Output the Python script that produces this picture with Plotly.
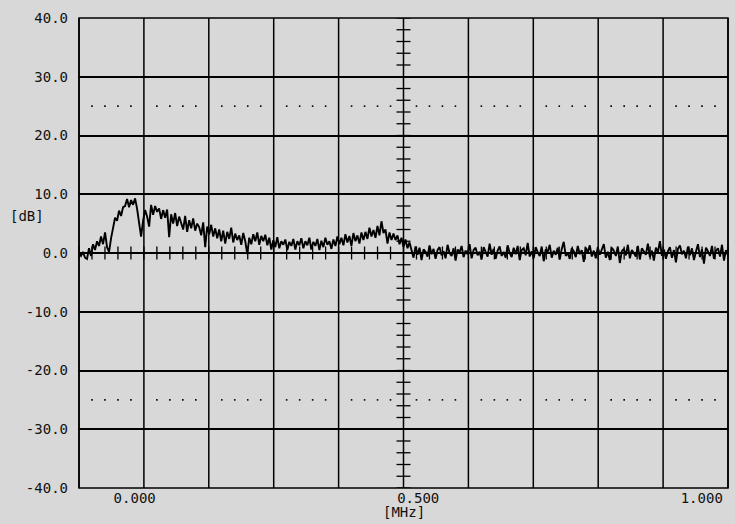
import numpy as np
import plotly.graph_objects as go

# Frequency span of the display (MHz at left and right edge of the graticule)
FREQ_START = -0.0982
FREQ_STOP = 1.0463

# Measured level [dB], equally spaced frequency bins across the span
DB_VALUES = [
    0.0, -0.5, 0.2, -0.8,
    -1.0, 0.8, -0.5, 1.5,
    0.5, 2.0, 1.2,
    2.8, 1.5, 3.5,
    1.0, 0.2,
    2.5, 4.5, 6.0,
    5.5, 7.2, 6.3, 7.8,
    8.0, 9.2, 7.8, 9.0, 8.2, 9.3,
    7.5, 5.0, 2.8,
    5.5,
    7.3, 6.2, 4.5,
    8.2, 6.5, 8.0, 7.0, 7.6, 5.8, 7.3,
    6.0, 7.4, 2.7, 6.6, 5.0, 6.8, 4.6, 6.2,
    5.2, 4.0, 6.3, 3.6, 5.6, 4.2, 5.9, 3.8, 5.0, 4.4,
    3.0, 5.2, 1.0, 4.5, 3.2, 4.8, 2.8, 4.2,
    2.5, 4.0, 2.0, 3.8, 1.6, 3.6, 2.4, 4.3, 1.8, 3.3, 2.2, 3.0, 1.4, 3.4, 2.0, -0.2, 2.6,
    1.5, 3.2, 2.0, 3.5, 1.4, 2.9, 2.0, 3.1, 1.3, 2.6,
    0.6, 2.2, 1.0, 2.7, 0.8, 2.0, 1.4, 2.3, 0.5, 1.9, 1.2, 2.4, 0.6, 2.0, 1.3,
    2.5, 0.8, 2.0, 1.3, 2.6, 0.6, 1.9, 1.2, 2.4, 0.5, 2.1, 1.0, 2.6, 1.4, 2.0, 0.7, 2.3, 1.2, 2.8, 1.5,
    2.6, 1.3, 3.2, 1.8, 2.9, 1.2, 3.4, 2.0, 3.0, 1.6, 3.5, 2.2,
    3.6, 2.4, 4.3, 2.8, 3.9, 2.6, 4.6, 3.0, 5.4, 3.4,
    4.0, 1.6, 3.5, 2.2, 3.3,
    2.2, 3.0, 1.5, 2.6, 1.0, 2.3, 0.8, 1.8,
    0.4, -0.8, 1.1, -0.3, 0.9, -1.2, 0.6, 0.2, -0.6, 1.3, -0.2, 0.7, -1.0, 0.5, 1.0, -0.4,
    0.3, -0.9, 1.4, 0.0, -0.5, 0.8, -1.3, 0.6, 0.1, 1.2, -0.7, 0.4, -0.2, 1.5, -0.9, 0.5,
    0.9, -0.4, 0.2, -1.1, 1.0, 0.3, -0.6, 1.6, -0.3, 0.7, -1.0, 0.4, 1.1, -0.5, 0.2, -0.8,
    1.3, 0.0, -0.7, 0.9, -0.2, 1.2, -1.2, 0.5, 0.8, -0.4, 1.7, -0.6, 0.3, -0.9, 1.0, 0.1,
    -0.5, 1.1, -1.4, 0.6, 0.2, 1.4, -0.8, 0.4, -0.3, 0.9, -1.1, 0.7, 1.9, -0.5, 0.0, -1.0,
    0.8, 0.3, -0.7, 1.2, -0.2, 0.5, -1.5, 0.9, 0.1, 1.3, -0.6, 0.4, -0.9, 1.0, -0.3, 0.6,
    1.5, -0.8, 0.2, -1.2, 0.9, 0.4, -0.5, 1.1, -1.7, 0.3, 0.7, -0.4, 1.4, -0.9, 0.5, 0.0,
    -0.6, 1.2, -1.1, 0.8, 0.2, -0.3, 1.6, -0.7, 0.4, -1.3, 0.9, 0.1, 2.0, -0.5, 0.6, -1.0,
    0.3, 1.0, -0.8, 0.5, -1.6, 0.7, 1.3, -0.2, 0.4, -0.9, 1.1, -0.4, 0.8, -1.2, 0.2, 1.5,
    -0.7, 0.6, -1.8, 0.9, 0.3, -0.5, 1.2, -1.0, 0.4, 0.8, -0.6, 1.4, -1.3, 0.5, -0.4,
]

Y_TICKS = [40, 30, 20, 10, 0, -10, -20, -30, -40]
Y_TICK_LABELS = ["40.0", "30.0", "20.0", "10.0", "0.0", "-10.0", "-20.0", "-30.0", "-40.0"]
X_TICKS = [0.0, 0.5, 1.0]
X_TICK_LABELS = ["0.000", "0.500", "1.000"]
X_UNIT = "[MHz]"
Y_UNIT = "[dB]"
REF_LINES_DB = [25, -25]

BG = "#d8d8d8"
INK = "#000000"
FONT = dict(family="DejaVu Sans Mono", size=14, color="#111111")

N_DIV_X = 10
N_SUB = 5

freqs = np.linspace(FREQ_START, FREQ_STOP, len(DB_VALUES))

fig = go.Figure()
fig.add_trace(go.Scatter(x=freqs, y=DB_VALUES, mode="lines",
                         line=dict(color=INK, width=1.9),
                         hoverinfo="skip", showlegend=False))

# dotted reference lines at +/-25 dB (one dot per sub-division)
span = FREQ_STOP - FREQ_START
dot_x, dot_y = [], []
for lvl in REF_LINES_DB:
    for j in range(N_DIV_X * N_SUB + 1):
        if j % N_SUB:
            dot_x.append(FREQ_START + span * j / (N_DIV_X * N_SUB))
            dot_y.append(lvl)
fig.add_trace(go.Scatter(x=dot_x, y=dot_y, mode="markers",
                         marker=dict(symbol="square", size=1.6, color=INK, line=dict(width=0)),
                         hoverinfo="skip", showlegend=False))

shapes = []
# vertical graticule lines
for k in range(N_DIV_X + 1):
    shapes.append(dict(type="line", xref="paper", yref="paper", x0=k / N_DIV_X, x1=k / N_DIV_X,
                       y0=0, y1=1, line=dict(color=INK, width=1.5), layer="below"))
# frame
shapes.append(dict(type="rect", xref="paper", yref="paper", x0=0, x1=1, y0=0, y1=1,
                   line=dict(color=INK, width=1.5), layer="below"))
# minor ticks on the horizontal centre line (0 dB)
for j in range(N_DIV_X * N_SUB + 1):
    xp = j / (N_DIV_X * N_SUB)
    shapes.append(dict(type="line", xref="paper", yref="y", x0=xp, x1=xp, y0=-1.1, y1=1.1,
                       line=dict(color=INK, width=1.3), layer="below"))
# minor ticks on the vertical centre line
half_w = 7 / 649
for v in range(-40, 41, 2):
    shapes.append(dict(type="line", xref="paper", yref="y", x0=0.5 - half_w, x1=0.5 + half_w,
                       y0=v, y1=v, line=dict(color=INK, width=1.3), layer="below"))

fig.update_layout(
    width=735, height=524,
    margin=dict(l=79, r=7, t=18, b=36, autoexpand=False),
    paper_bgcolor=BG, plot_bgcolor=BG,
    font=FONT,
    shapes=shapes,
    xaxis=dict(range=[FREQ_START, FREQ_STOP], tickvals=X_TICKS, ticktext=X_TICK_LABELS,
               showgrid=False, zeroline=False, showline=False, ticks="",
               tickfont=FONT, fixedrange=True, automargin=False),
    yaxis=dict(range=[-40, 40], tickvals=Y_TICKS, ticktext=Y_TICK_LABELS,
               showgrid=True, gridcolor=INK, gridwidth=1.5, zeroline=False,
               showline=False, ticks="", ticklabelstandoff=10,
               tickfont=FONT, fixedrange=True, automargin=False),
    annotations=[
        dict(text=Y_UNIT, xref="paper", yref="paper", x=(26.5 - 79) / 649, y=(488 - 216) / 470,
             xanchor="center", yanchor="middle", showarrow=False, font=FONT),
        dict(text=X_UNIT, xref="paper", yref="paper", x=0.5, y=(488 - 512) / 470,
             xanchor="center", yanchor="middle", showarrow=False, font=FONT),
    ],
)

fig.write_html(
    "out.html",
    config={"displayModeBar": False, "responsive": False},
    post_script="document.body.style.margin='0';document.body.style.overflow='hidden';",
)
